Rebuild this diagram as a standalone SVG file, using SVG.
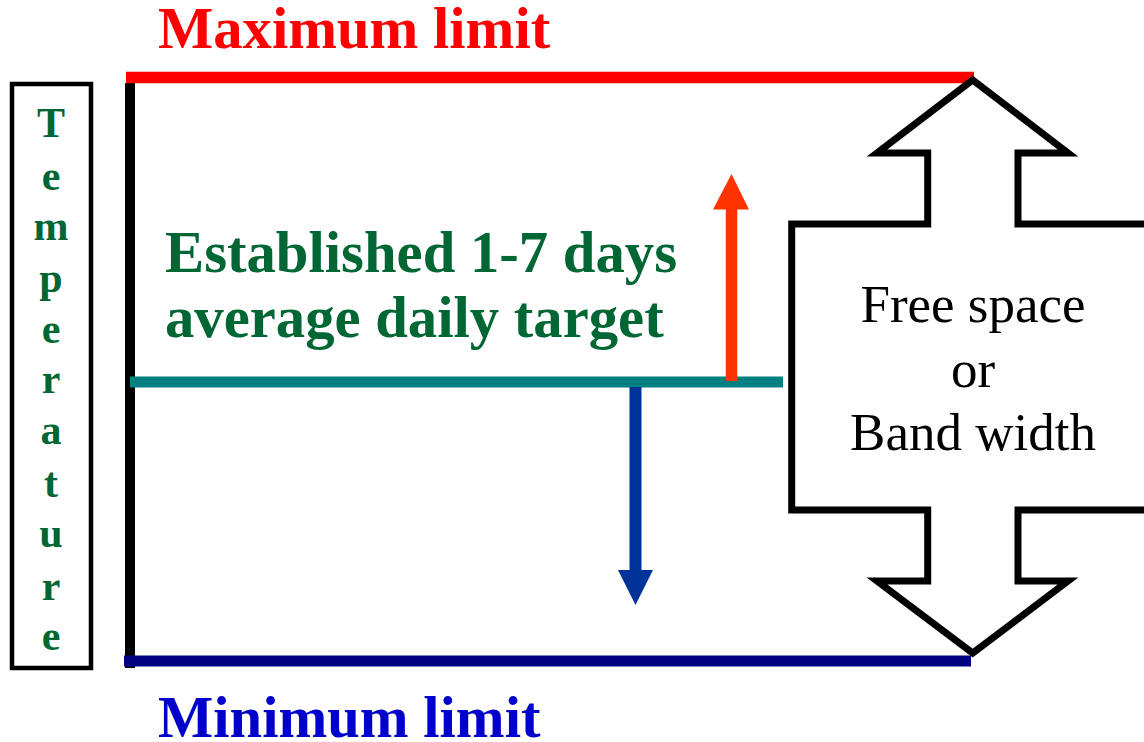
<svg xmlns="http://www.w3.org/2000/svg" width="1144" height="742" viewBox="0 0 1144 742">
<style>
.title{font-family:"Liberation Serif","Times New Roman",serif;font-weight:bold;font-size:58.6px}
.green{font-family:"Liberation Serif","Times New Roman",serif;font-weight:bold;fill:#006633}
.plain{font-family:"Liberation Serif","Times New Roman",serif;font-size:53px;fill:#000}
</style>
<rect width="1144" height="742" fill="#fff"/>
<g id="axis">
<line x1="130" y1="83" x2="130" y2="668" stroke="#000" stroke-width="10"/>
</g>
<g id="temperature-label">
<rect x="12" y="84" width="79" height="584" fill="none" stroke="#000" stroke-width="4.5"/>
<g class="green" font-size="42" text-anchor="middle">
<text x="51" y="137">T</text>
<text x="51" y="190">e</text>
<text x="51" y="240">m</text>
<text x="51" y="292">p</text>
<text x="51" y="343">e</text>
<text x="51" y="393">r</text>
<text x="51" y="444">a</text>
<text x="51" y="497">t</text>
<text x="51" y="547">u</text>
<text x="51" y="600">r</text>
<text x="51" y="650">e</text>
</g>
</g>
<g id="maximum-limit">
<line x1="126" y1="77.5" x2="974" y2="77.5" stroke="#ff0000" stroke-width="11.5"/>
<text class="title" x="158" y="48" fill="#ff0000">Maximum limit</text>
</g>
<g id="minimum-limit">
<line x1="124" y1="661" x2="971" y2="661" stroke="#000080" stroke-width="11"/>
<text class="title" x="158" y="737" fill="#0000cc">Minimum limit</text>
</g>
<g id="target">
<line x1="130" y1="382" x2="783" y2="382" stroke="#008080" stroke-width="11"/>
<text class="green" font-size="58.7" x="165" y="272">Established 1-7 days</text>
<text class="green" font-size="58.7" x="165" y="337">average daily target</text>
</g>
<g id="band-width">
<polygon points="972.7,80 1068,153 1018,153 1018,224 1154,224 1154,510 1018,510 1018,581 1068,581 972.7,653 877,581 927.7,581 927.7,510 791.7,510 791.7,224 927.7,224 927.7,153 877,153" fill="#fff" stroke="#000" stroke-width="7"/>
<text class="plain" x="973" y="322" text-anchor="middle">Free space</text>
<text class="plain" x="973" y="387" text-anchor="middle">or</text>
<text class="plain" x="973" y="450" text-anchor="middle">Band width</text>
</g>
<g id="connectors">
<line x1="731.5" y1="381" x2="731.5" y2="208" stroke="#ff3300" stroke-width="11.5"/>
<polygon points="731.5,174 749,209.5 713,209.5" fill="#ff3300"/>
<line x1="635.5" y1="387" x2="635.5" y2="571" stroke="#003399" stroke-width="12"/>
<polygon points="635.5,605 653,570 618,570" fill="#003399"/>
</g>
</svg>
